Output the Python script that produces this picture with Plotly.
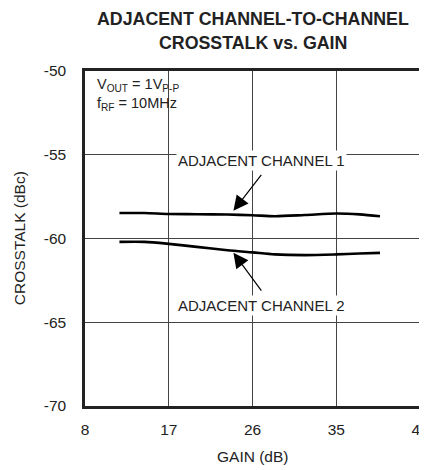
import plotly.graph_objects as go

# Data
gain_ch1 = [11.7, 14.4, 17.0, 20.0, 23.3, 26.0, 28.4, 31.6, 35.0, 37.5, 39.7]
xtalk_ch1 = [-58.48, -58.48, -58.54, -58.55, -58.57, -58.61, -58.67, -58.60, -58.51, -58.56, -58.67]
gain_ch2 = [11.7, 14.4, 17.0, 20.0, 23.3, 26.0, 28.4, 31.6, 35.0, 37.5, 39.7]
xtalk_ch2 = [-60.20, -60.20, -60.32, -60.50, -60.70, -60.83, -60.95, -60.99, -60.95, -60.90, -60.86]

x_ticks = [8, 17, 26, 35, 44]
y_ticks = [-50, -55, -60, -65, -70]

FONT = "Liberation Sans, Arial, sans-serif"
TXT = "#222"

OFF = 8
L, R, T, B = 85 - OFF, 6, 71 - OFF, 64
W, H = 427, 470 - OFF
PW, PH = 336, H - T - B


def px_x(px):
    return (px - OFF - L) / PW


def px_y(py):
    return 1 - (py - OFF - T) / PH


fig = go.Figure()
for gx, gy in [(gain_ch1, xtalk_ch1), (gain_ch2, xtalk_ch2)]:
    fig.add_trace(go.Scatter(x=gx, y=gy, mode="lines",
                             line=dict(color="black", width=2.6, shape="spline", smoothing=0.8),
                             showlegend=False, hoverinfo="skip"))

annotations = [
    dict(text="ADJACENT CHANNEL 1", x=26.96, y=-55.34, xref="x", yref="y", showarrow=False,
         bgcolor="white", font=dict(size=15, color=TXT)),
    dict(text="ADJACENT CHANNEL 2", x=26.96, y=-64.0, xref="x", yref="y", showarrow=False,
         bgcolor="white", font=dict(size=15, color=TXT)),
    dict(text="", x=23.95, y=-58.35, ax=27.07, ay=-56.11, xref="x", yref="y", axref="x", ayref="y",
         showarrow=True, arrowhead=2, arrowsize=2.5, arrowwidth=1.2, arrowcolor="black"),
    dict(text="", x=23.95, y=-60.85, ax=27.07, ay=-63.2, xref="x", yref="y", axref="x", ayref="y",
         showarrow=True, arrowhead=2, arrowsize=2.5, arrowwidth=1.2, arrowcolor="black"),
    dict(text="V<sub>OUT</sub> = 1V<sub>P-P</sub><br>f<sub>RF</sub> = 10MHz",
         x=px_x(95), y=px_y(94), xref="paper", yref="paper", xanchor="left", yanchor="middle",
         align="left", showarrow=False, font=dict(size=14.5, color=TXT)),
    dict(text="CROSSTALK (dBc)", x=px_x(9), y=0.5, xref="paper", yref="paper",
         textangle=-90, showarrow=False, font=dict(size=15.5, color=TXT)),
    dict(text="GAIN (dB)", x=0.5, y=px_y(457), xref="paper", yref="paper",
         yanchor="middle", showarrow=False, font=dict(size=15.5, color=TXT)),
    dict(text="<b>ADJACENT CHANNEL-TO-CHANNEL</b>", x=0.5, y=px_y(19), xref="paper", yref="paper",
         yanchor="middle", showarrow=False, font=dict(size=17.8, color=TXT)),
    dict(text="<b>CROSSTALK vs. GAIN</b>", x=0.5, y=px_y(43), xref="paper", yref="paper",
         yanchor="middle", showarrow=False, font=dict(size=17.8, color=TXT)),
]

fig.update_layout(
    width=W, height=H,
    margin=dict(l=L, r=R, t=T, b=B),
    paper_bgcolor="white", plot_bgcolor="white",
    font=dict(family=FONT, color=TXT, size=15.5),
    annotations=annotations,
)
fig.update_xaxes(range=[8, 44], tickvals=x_ticks, ticktext=[str(v) for v in x_ticks],
                 showgrid=True, gridcolor="#444", gridwidth=1, zeroline=False,
                 showline=True, linecolor="#222", linewidth=2.5, mirror=True,
                 ticks="", ticklabelstandoff=8, tickfont=dict(size=15.5))
fig.update_yaxes(range=[-70, -50], tickvals=y_ticks, ticktext=[str(v) for v in y_ticks],
                 showgrid=True, gridcolor="#444", gridwidth=1, zeroline=False,
                 showline=True, linecolor="#222", linewidth=2.5, mirror=True,
                 ticks="", ticklabelstandoff=13, tickfont=dict(size=15.5))

fig.write_html("out.html")
